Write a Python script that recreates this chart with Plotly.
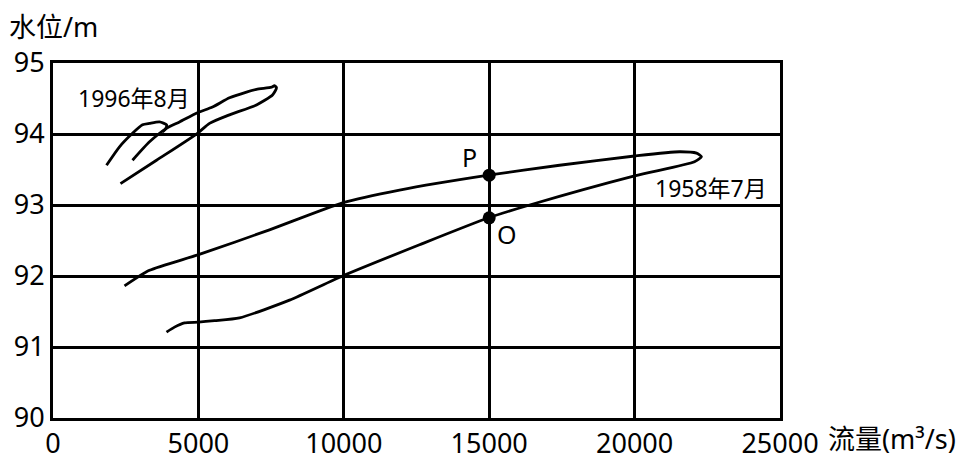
import plotly.graph_objects as go

FONT = "Noto Sans, Noto Sans CJK SC, sans-serif"

# 1958年7月 hysteresis loop (flow m3/s, stage m)
q1958 = [2459, 3319, 5004, 7445, 9956, 11916, 14977, 17419, 20000, 21545, 22130, 22300,
         22060, 20000, 16390, 14977, 12604, 9956, 8133, 6414, 5554, 5004, 4522, 4178, 3903]
h1958 = [91.86, 92.08, 92.30, 92.65, 93.03, 93.21, 93.42, 93.56, 93.69, 93.75, 93.73, 93.68,
         93.61, 93.41, 93.00, 92.82, 92.44, 92.00, 91.66, 91.41, 91.37, 91.35, 91.34, 91.28, 91.21]

# 1996年8月 loop
q1996 = [2321, 3559, 4969, 5382, 6070, 6998, 7549, 7686, 7617, 7514, 6998, 6654, 6070,
         5485, 4969, 4350, 3903, 3319, 2734]
h1996 = [93.30, 93.63, 94.01, 94.15, 94.27, 94.41, 94.55, 94.65, 94.68, 94.66, 94.63, 94.59,
         94.51, 94.38, 94.30, 94.17, 94.08, 93.89, 93.63]

# 1996 hook segment
q1996b = [1840, 2287, 2734, 3078, 3319, 3663, 3903, 3869, 3766]
h1996b = [93.56, 93.82, 94.01, 94.13, 94.15, 94.17, 94.13, 94.07, 94.03]

# points P and O
pt_q = [15000, 15000]
pt_h = [93.42, 92.82]

x_ticks = [0, 5000, 10000, 15000, 20000, 25000]
y_ticks = [90, 91, 92, 93, 94, 95]

line = dict(color="black", width=2.8, shape="spline", smoothing=0.6)
fig = go.Figure()
fig.add_trace(go.Scatter(x=q1958, y=h1958, mode="lines", line=line, hoverinfo="skip"))
fig.add_trace(go.Scatter(x=q1996, y=h1996, mode="lines", line=line, hoverinfo="skip"))
fig.add_trace(go.Scatter(x=q1996b, y=h1996b, mode="lines", line=line, hoverinfo="skip"))
fig.add_trace(go.Scatter(x=pt_q, y=pt_h, mode="markers",
                         marker=dict(color="black", size=13), hoverinfo="skip"))

txt = dict(family=FONT, size=23, color="black")
anns = [
    dict(x=2769, y=94.51, text="1996年8月", showarrow=False, font=txt),
    dict(x=22613, y=93.24, text="1958年7月", showarrow=False, font=txt),
    dict(x=14323, y=93.68, text="P", showarrow=False, font=dict(family=FONT, size=25, color="black")),
    dict(x=15595, y=92.59, text="O", showarrow=False, font=dict(family=FONT, size=25, color="black")),
    dict(xref="paper", yref="paper", x=1, y=0, xanchor="left", yanchor="middle",
         xshift=46, yshift=-20, text="流量(m³/s)", showarrow=False,
         font=dict(family=FONT, size=27, color="black")),
    dict(xref="paper", yref="paper", x=0, y=1, xanchor="left", yanchor="middle",
         xshift=-46, yshift=37, text="水位/m", showarrow=False,
         font=dict(family=FONT, size=27, color="black")),
]

# page body has an 8px margin, so the figure is sized/offset to compensate
fig.update_layout(
    width=965, height=457,
    margin=dict(l=45, r=193, t=55, b=47, autoexpand=False),
    paper_bgcolor="white", plot_bgcolor="white",
    showlegend=False,
    annotations=anns,
    font=dict(family=FONT, color="black"),
)
fig.update_xaxes(range=[0, 25000], tickvals=x_ticks, ticktext=[str(v) for v in x_ticks],
                 showgrid=True, gridcolor="black", gridwidth=2.5,
                 showline=True, linecolor="black", linewidth=3, mirror=True,
                 ticks="", tickfont=dict(family=FONT, size=27, color="black"),
                 zeroline=False, automargin=False)
fig.update_yaxes(range=[90, 95], tickvals=y_ticks, ticktext=[str(v) for v in y_ticks],
                 showgrid=True, gridcolor="black", gridwidth=2.5,
                 showline=True, linecolor="black", linewidth=3, mirror=True,
                 ticks="", tickfont=dict(family=FONT, size=27, color="black"),
                 zeroline=False, automargin=False)

fig.write_html("out.html")
